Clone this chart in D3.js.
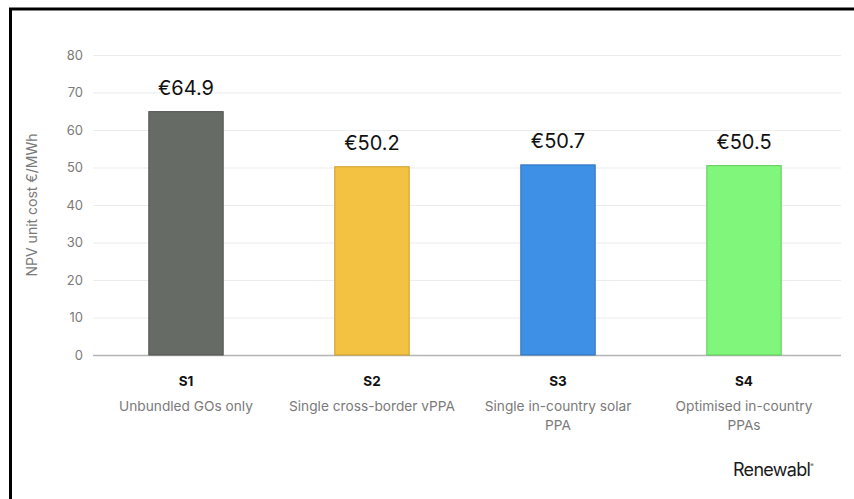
<!DOCTYPE html>
<html>
<head>
<meta charset="utf-8">
<script src="https://cdn.jsdelivr.net/npm/d3@7"></script>
<style>
  html, body { margin: 0; padding: 0; background: #fff; }
  svg { display: block; }
</style>
</head>
<body>
<svg id="chart" width="854" height="499"></svg>
<script>
// Scenario codes, descriptions and NPV unit costs (€/MWh)
const scenarios = ["S1", "S2", "S3", "S4"];
const descriptions = [
  ["Unbundled GOs only"],
  ["Single cross-border vPPA"],
  ["Single in-country solar", "PPA"],
  ["Optimised in-country", "PPAs"]
];
const costs = [64.9, 50.2, 50.7, 50.5];
const barColors = ["#676b66", "#f4c243", "#3e90e6", "#80f77a"];
const barStrokes = ["#505450", "#c99a2a", "#2f70bb", "#5fc95a"];
const yTicks = [0, 10, 20, 30, 40, 50, 60, 70, 80];
const yTitle = "NPV unit cost €/MWh";

const svg = d3.select("#chart");
const margin = { left: 93, right: 17, top: 55, bottom: 144 };
const W = 854, H = 499;
const font = "Inter, 'Noto Sans', sans-serif";

// Frame lines on the top and left edges
svg.append("line").attr("x1", 9).attr("x2", W).attr("y1", 9).attr("y2", 9)
  .attr("stroke", "#000").attr("stroke-width", 3);
svg.append("line").attr("x1", 10.5).attr("x2", 10.5).attr("y1", 8).attr("y2", H)
  .attr("stroke", "#000").attr("stroke-width", 3);

const x = d3.scaleBand()
  .domain(scenarios)
  .range([margin.left, W - margin.right])
  .paddingInner(0.6)
  .paddingOuter(0.3);

const y = d3.scaleLinear()
  .domain([0, 80])
  .range([H - margin.bottom, margin.top]);

// Gridlines and tick labels
const yAxis = d3.axisLeft(y)
  .tickValues(yTicks)
  .tickSize(-(W - margin.right - margin.left + 4))
  .tickPadding(10);

const gy = svg.append("g")
  .attr("transform", `translate(${margin.left},0)`)
  .call(yAxis);
gy.select(".domain").remove();
gy.selectAll(".tick line")
  .attr("stroke", d => d === 0 ? "#b4b4b4" : "#ececec")
  .attr("stroke-width", d => d === 0 ? 1.5 : 1.2);
gy.selectAll(".tick text")
  .attr("fill", "#7a7a7a")
  .style("font-family", font)
  .style("font-size", "13px");

// Axis title
svg.append("text")
  .attr("transform", `translate(37,${(y(0) + y(80)) / 2}) rotate(-90)`)
  .attr("text-anchor", "middle")
  .attr("fill", "#7a7a7a")
  .style("font-family", font)
  .style("font-size", "14px")
  .text(yTitle);

// Bars
svg.append("g").selectAll("rect")
  .data(scenarios)
  .join("rect")
  .attr("x", d => x(d))
  .attr("y", (d, i) => y(costs[i]))
  .attr("width", x.bandwidth())
  .attr("height", (d, i) => y(0) - y(costs[i]))
  .attr("fill", (d, i) => barColors[i])
  .attr("stroke", (d, i) => barStrokes[i])
  .attr("stroke-width", 1);

// Value labels above bars
svg.append("g").selectAll("text")
  .data(scenarios)
  .join("text")
  .attr("x", d => x(d) + x.bandwidth() / 2)
  .attr("y", (d, i) => y(costs[i]) - 17)
  .attr("text-anchor", "middle")
  .attr("fill", "#111")
  .style("font-family", font)
  .style("font-size", "20px")
  .text((d, i) => "€" + costs[i].toFixed(1));

// Category labels
const cat = svg.append("g").selectAll("g")
  .data(scenarios)
  .join("g")
  .attr("transform", d => `translate(${x(d) + x.bandwidth() / 2},0)`);

cat.append("text")
  .attr("y", 386)
  .attr("text-anchor", "middle")
  .attr("fill", "#111")
  .style("font-family", font)
  .style("font-size", "13.5px")
  .style("font-weight", "700")
  .text(d => d);

cat.each(function(d, i) {
  const g = d3.select(this);
  descriptions[i].forEach((line, j) => {
    g.append("text")
      .attr("y", 411 + j * 19)
      .attr("text-anchor", "middle")
      .attr("fill", "#7a7a7a")
      .style("font-family", font)
      .style("font-size", "13.7px")
      .text(line);
  });
});

// Brand mark
const brand = svg.append("text")
  .attr("x", 733)
  .attr("y", 476)
  .attr("fill", "#1a1a1a")
  .style("font-family", font)
  .style("font-size", "18px")
  .style("letter-spacing", "-0.7px")
  .text("Renewabl");
brand.append("tspan")
  .attr("dy", -9)
  .style("font-size", "5px")
  .text("®");
</script>
</body>
</html>
